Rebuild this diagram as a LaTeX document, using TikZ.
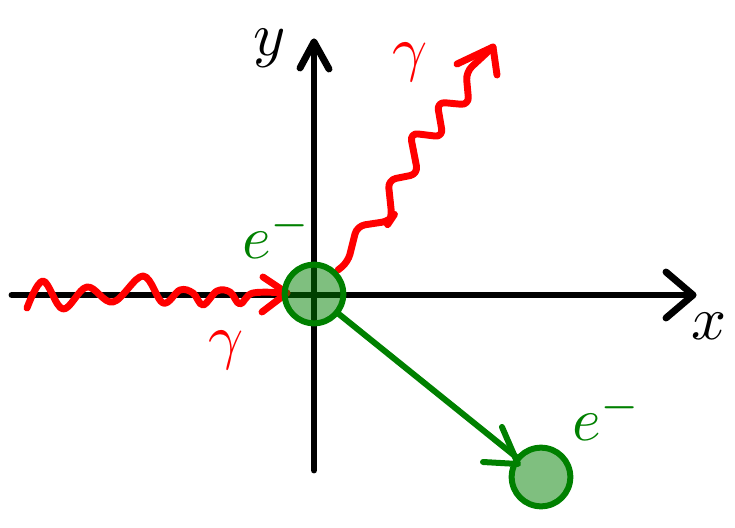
\documentclass[tikz,border=0pt]{standalone}
\usetikzlibrary{arrows.meta,calc}
\definecolor{eg}{RGB}{0,128,0}
\definecolor{ph}{RGB}{255,0,0}
\begin{document}
\begin{tikzpicture}[x=0.75pt,y=-0.75pt,
  axis/.style={line width=5.2pt,line cap=round,line join=round,black},
  photon/.style={line width=5.2pt,line cap=round,line join=round,ph},
  elec/.style={circle,draw=eg,fill=eg,fill opacity=0.5,draw opacity=1,line width=4.5pt,minimum size=44pt,inner sep=0pt},
  eline/.style={line width=4.5pt,line cap=round,line join=round,eg},
  lbl/.style={inner sep=0pt,scale=4.6}]
\useasboundingbox (0,0) rectangle (735,528);
% axes
\coordinate (xs) at (12,295);
\coordinate (xe) at (693,295);
\coordinate (ys) at (314,470);
\coordinate (ye) at (314,42);
\draw[axis] (xs) -- (xe);
\draw[axis] ($(xe)+(-27,-23)$) -- (xe) -- ($(xe)+(-27,23)$);
\draw[axis] (ys) -- (ye);
\draw[axis] ($(ye)+(-14,26)$) -- (ye) -- ($(ye)+(15,27)$);
\node[lbl] (ylab) at (270,48) {$y$};
\node[lbl] (xlab) at (709,326) {$x$};
% incoming photon
\coordinate (pin) at (27,308);
\coordinate (pinend) at (287,293);
\draw[photon] plot[smooth,tension=0.6] coordinates {(27,308) (43,281) (63,309) (87,287) (113,302) (143,276) (163,303) (180,290) (193,293) (203,305) (217,291) (230,292) (240,304) (253,293) (287,293)};
\draw[photon] (263,277) -- (pinend) -- (262,312);
% outgoing photon
\coordinate (pout) at (338,270);
\coordinate (poutend) at (493,47);
\draw[photon,rounded corners=6pt] (pout) -- (348,262) -- (357,226) -- (390,221) -- (392,218) -- (388,180) -- (418,174) -- (410,133) -- (443,137) -- (437,102) -- (469,105) -- (466,72) -- (poutend);
\draw[photon] (457,64) -- (poutend) -- (497,75);
% electrons
\node[elec] (e1) at (314,294) {};
\node[elec] (e2) at (541,477) {};
\draw[eline] (e1) -- (e2);
\coordinate (tip) at (518,464);
\draw[eline] (502,427) -- (tip) -- (483,462);
% labels
\node[lbl,text=ph] (g1) at (226,350) {$\gamma$};
\node[lbl,text=ph] (g2) at (410,62) {$\gamma$};
\node[lbl,text=eg] (el1) at (277,234) {$e^-$};
\node[lbl,text=eg] (el2) at (607,416) {$e^-$};
\end{tikzpicture}
\end{document}
